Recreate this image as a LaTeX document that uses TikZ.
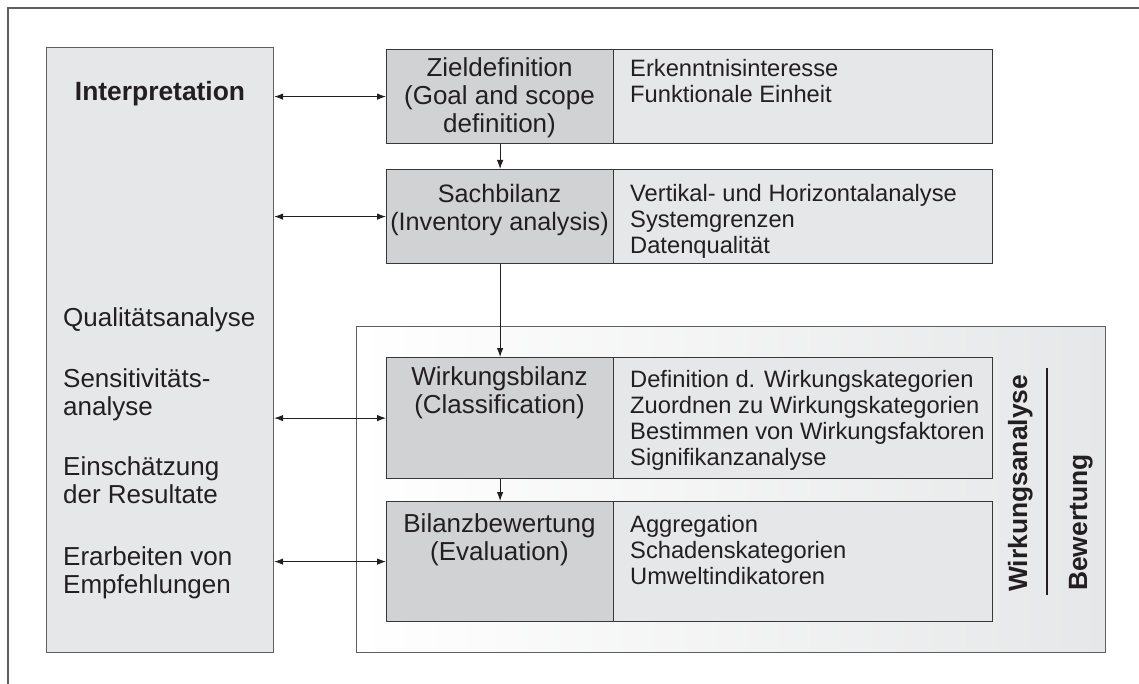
\documentclass[tikz,border=0pt]{standalone}
\usepackage{fontspec}
\setmainfont{Liberation Sans}
\usetikzlibrary{arrows.meta}
\definecolor{boxdark}{RGB}{209,210,212}
\definecolor{boxlight}{RGB}{230,231,232}
\definecolor{edge}{RGB}{55,55,55}
\definecolor{framegray}{RGB}{95,95,95}
\definecolor{ink}{RGB}{35,31,32}
% invisible strut that fixes the height of the first text line
\newcommand\firstline{\rule{0pt}{22pt}}
\begin{document}
\begin{tikzpicture}[x=1pt,y=-1pt,
  box/.style={draw=edge, line width=1.2pt, inner sep=0pt, anchor=north west},
  phasebox/.style={box, fill=boxdark, minimum width=227pt},
  detailbox/.style={box, fill=boxlight, minimum width=379pt},
  titletext/.style={inner sep=0pt, anchor=north, align=center, text=ink,
    font=\fontsize{26}{28}\selectfont},
  itemtext/.style={inner sep=0pt, anchor=north west, align=left, text=ink,
    font=\fontsize{23.7}{26}\selectfont},
  interptext/.style={inner sep=0pt, anchor=north west, align=left, text=ink,
    font=\fontsize{26}{28.5}\selectfont},
  boldtext/.style={inner sep=0pt, text=ink, font=\fontsize{26.4}{30}\selectfont\bfseries},
  conn/.style={draw=ink, line width=0.9pt},
  biarrow/.style={conn, {Latex[length=9pt,width=6.5pt]}-{Latex[length=9pt,width=6.5pt]}},
  onearrow/.style={conn, -{Latex[length=9pt,width=6.5pt]}}
]
\useasboundingbox (0,0) rectangle (1139,684);

% page frame
\draw[framegray, line width=1.2pt] (8,690) -- (8,8) -- (1145,8);

% impact assessment frame with its light shading
\node[box, draw=framegray, left color=white, right color=boxlight,
  minimum width=749pt, minimum height=326pt] (wa) at (356,326) {};

% interpretation column
\node[box, draw=framegray, fill=boxlight, minimum width=227pt, minimum height=605pt]
  (interp) at (46,47) {};
\node[boldtext, anchor=base] (interptitle) at (160,101) {Interpretation};
\node[interptext] (iq) at (63,304) {\firstline Qualitätsanalyse};
\node[interptext] (is) at (63,365) {\firstline Sensitivitäts-\\analyse};
\node[interptext] (ie) at (63,453) {\firstline Einschätzung\\der Resultate};
\node[interptext] (ir) at (63,543) {\firstline Erarbeiten von\\Empfehlungen};

% phase boxes (left) and their detail boxes (right)
\node[detailbox, minimum height=94pt] (zdr) at (613,49) {};
\node[phasebox, minimum height=94pt] (zd) at (386,49) {};
\node[detailbox, minimum height=94pt] (sbr) at (613,169) {};
\node[phasebox, minimum height=94pt] (sb) at (386,169) {};
\node[detailbox, minimum height=121pt] (wbr) at (613,357) {};
\node[phasebox, minimum height=121pt] (wb) at (386,357) {};
\node[detailbox, minimum height=120pt] (bbr) at (613,501) {};
\node[phasebox, minimum height=120pt] (bb) at (386,501) {};

% phase titles
\node[titletext] (zdt) at (499.5,54) {\firstline Zieldefinition\\(Goal and scope\\definition)};
\node[titletext, font=\fontsize{25.2}{28}\selectfont] (sbt) at (499.5,180) {\firstline Sachbilanz\\(Inventory analysis)};
\node[titletext] (wbt) at (499.5,363) {\firstline Wirkungsbilanz\\(Classification)};
\node[titletext] (bbt) at (499.5,510) {\firstline Bilanzbewertung\\(Evaluation)};

% detail lists
\node[itemtext] (zdl) at (630,54) {\firstline Erkenntnisinteresse\\Funktionale Einheit};
\node[itemtext] (sbl) at (630,179) {\firstline Vertikal- und Horizontalanalyse\\Systemgrenzen\\Datenqualität};
\node[itemtext] (wbl) at (630,365) {\firstline Definition d. Wirkungskategorien\\Zuordnen zu Wirkungskategorien\\Bestimmen von Wirkungsfaktoren\\Signifikanzanalyse};
\node[itemtext] (bbl) at (630,510) {\firstline Aggregation\\Schadenskategorien\\Umweltindikatoren};

% side labels of the impact assessment frame
\node[boldtext, rotate=90, anchor=base west] (walabel) at (1027,592) {Wirkungsanalyse};
\node[boldtext, rotate=90, anchor=base west] (bwlabel) at (1087,591) {Bewertung};
\coordinate (sepTop) at (1047,368);
\coordinate (sepBot) at (1047,595);
\draw[ink, line width=1.4pt] (sepTop) -- (sepBot);

% connectors between interpretation and the phases
\draw[biarrow] (zd.west -| interp.east) -- (zd.west);
\draw[biarrow] (sb.west -| interp.east) -- (sb.west);
\draw[biarrow] (wb.west -| interp.east) -- (wb.west);
\draw[biarrow] (bb.west -| interp.east) -- (bb.west);

% sequence of phases
\draw[onearrow] (zd.south) -- (sb.north);
\draw[onearrow] (sb.south) -- (wb.north);
\draw[onearrow] (wb.south) -- (bb.north);
\end{tikzpicture}
\end{document}
